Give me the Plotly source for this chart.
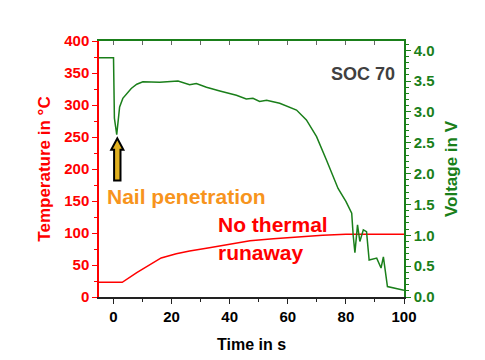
import plotly.graph_objects as go

# ---- data ----
time_v = [-5, 0, 0.3, 1.1, 2.1, 3.2, 6.1, 8, 10.1, 15.9, 22.2, 26.2, 28.5, 32, 36.6,
          42.3, 45.7, 48, 50.3, 52.7, 57.2, 60.1, 63, 66.4, 69.9, 73.3, 77.3, 80,
          82, 82.5, 83.1, 84, 84.8, 86, 87.1, 88, 90.6, 92.1, 92.9, 94.3, 100]
voltage = [3.88, 3.88, 2.90, 2.63, 3.08, 3.22, 3.38, 3.45, 3.49, 3.48, 3.50, 3.44, 3.46,
           3.40, 3.34, 3.27, 3.21, 3.22, 3.17, 3.19, 3.14, 3.08, 3.03, 2.87, 2.60, 2.22,
           1.76, 1.55, 1.36, 1.00, 0.72, 1.17, 0.90, 1.09, 1.06, 0.60, 0.63, 0.47, 0.65,
           0.17, 0.11]

time_t = [-5, 0, 3, 8, 12.4, 16.4, 21.6, 26.2, 33, 40, 47, 55, 64, 72, 80, 100]
temperature = [23, 23, 23, 38, 50, 61, 67.5, 72, 77, 83, 88, 91, 94, 96.5, 98, 98]

x_ticks = [0, 20, 40, 60, 80, 100]

RED = "#ff0000"
GREEN = "#1a7f1a"
ORANGE = "#f7941d"
FONT = "Liberation Sans"

fig = go.Figure()
fig.add_trace(go.Scatter(x=time_t, y=temperature, mode="lines",
                         line=dict(color=RED, width=1.5), yaxis="y", showlegend=False))
fig.add_trace(go.Scatter(x=time_v, y=voltage, mode="lines",
                         line=dict(color=GREEN, width=1.5), yaxis="y2", showlegend=False))
# dummy trace to activate top axis
fig.add_trace(go.Scatter(x=[None], y=[None], xaxis="x2", yaxis="y", showlegend=False))

# arrow (annotation decoration) in data coordinates
tip = (1.3, 248)
head_base = 230
head_half = 2.1
shaft_half = 1.1
shaft_bottom = 182
ax = tip[0]
arrow_path = (f"M {ax-shaft_half},{shaft_bottom} L {ax-shaft_half},{head_base} "
              f"L {ax-head_half},{head_base} L {ax},{tip[1]} L {ax+head_half},{head_base} "
              f"L {ax+shaft_half},{head_base} L {ax+shaft_half},{shaft_bottom} Z")
fig.add_shape(type="path", path=arrow_path, xref="x", yref="y",
              fillcolor="#e0b020", line=dict(color="black", width=2))


def tf(color, size=15):
    return dict(family=FONT, size=size, color=color, weight="bold")


fig.update_layout(
    width=477, height=352,
    margin=dict(l=91, r=81, t=33, b=63, autoexpand=False),
    paper_bgcolor="white", plot_bgcolor="white",
    font=dict(family=FONT),
    xaxis=dict(range=[-5, 100], tickvals=x_ticks, showgrid=False, zeroline=False,
               showline=True, linecolor="#222222", linewidth=1.5,
               ticks="outside", ticklen=5, tickcolor="#222222",
               minor=dict(dtick=10, tick0=0, ticks="outside", ticklen=3, tickcolor="#222222"),
               tickfont=tf("black"),
               title=dict(text="<b>Time in s</b>", font=tf("black", 16), standoff=15)),
    xaxis2=dict(range=[-5, 100], overlaying="x", side="top", dtick=10, tick0=0,
                showticklabels=False, showgrid=False, zeroline=False,
                showline=True, linecolor=GREEN, linewidth=1.5,
                ticks="inside", ticklen=4, tickcolor="#666666"),
    yaxis=dict(range=[0, 400], dtick=50, showgrid=False, zeroline=False,
               showline=True, linecolor=RED, linewidth=1.5,
               ticks="outside", ticklen=5, tickcolor=RED,
               minor=dict(dtick=25, ticks="outside", ticklen=3, tickcolor=RED),
               tickfont=tf(RED),
               title=dict(text="<b>Temperature in °C</b>", font=tf(RED, 17), standoff=9)),
    yaxis2=dict(range=[0, 4.15], dtick=0.5, tickformat=".1f", overlaying="y", side="right",
                showgrid=False, zeroline=False,
                showline=True, linecolor=GREEN, linewidth=1.5,
                ticks="outside", ticklen=5, tickcolor=GREEN,
                minor=dict(dtick=0.1, ticks="outside", ticklen=3, tickcolor=GREEN),
                tickfont=tf(GREEN),
                title=dict(text="<b>Voltage in V</b>", font=tf(GREEN, 17), standoff=11)),
    annotations=[
        dict(text="<b>SOC 70</b>", xref="paper", yref="paper", x=0.977, y=0.87,
             xanchor="right", yanchor="middle", showarrow=False,
             font=dict(family=FONT, size=18, color="#404040")),
        dict(text="<b>Nail penetration</b>", xref="x", yref="y", x=-2.8, y=157,
             xanchor="left", yanchor="middle", showarrow=False,
             font=dict(family=FONT, size=21, color=ORANGE)),
        dict(text="<b>No thermal</b>", xref="x", yref="y", x=35.3, y=113,
             xanchor="left", yanchor="middle", showarrow=False,
             font=dict(family=FONT, size=21, color=RED)),
        dict(text="<b>runaway</b>", xref="x", yref="y", x=35.3, y=70,
             xanchor="left", yanchor="middle", showarrow=False,
             font=dict(family=FONT, size=21, color=RED)),
    ],
)

fig.write_html("out.html")
